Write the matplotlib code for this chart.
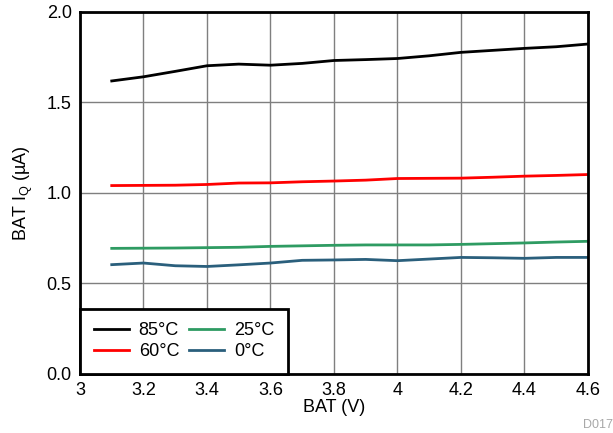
import matplotlib
matplotlib.use('Agg')
import matplotlib.pyplot as plt

plt.rcParams['font.family'] = ['Liberation Sans', 'DejaVu Sans']

# BAT voltage (V)
bat_v = [3.1, 3.2, 3.3, 3.4, 3.5, 3.6, 3.7, 3.8, 3.9, 4.0, 4.1, 4.2, 4.3, 4.4, 4.5, 4.6]

# quiescent current (uA) per temperature
iq_85 = [1.619, 1.642, 1.672, 1.703, 1.712, 1.706, 1.716, 1.732, 1.737, 1.743, 1.758, 1.777, 1.788, 1.799, 1.808, 1.823]
iq_60 = [1.041, 1.042, 1.043, 1.047, 1.055, 1.056, 1.062, 1.066, 1.071, 1.080, 1.081, 1.082, 1.087, 1.093, 1.097, 1.102]
iq_25 = [0.694, 0.695, 0.696, 0.698, 0.700, 0.705, 0.708, 0.711, 0.713, 0.713, 0.713, 0.716, 0.720, 0.724, 0.729, 0.733]
iq_0 = [0.604, 0.613, 0.598, 0.594, 0.603, 0.613, 0.628, 0.630, 0.633, 0.626, 0.635, 0.644, 0.642, 0.639, 0.644, 0.644]

fig = plt.figure(figsize=(6.13, 4.33), dpi=100)
ax = fig.add_axes([0.1305, 0.1363, 0.8287, 0.836])

ax.plot(bat_v, iq_85, color='black', lw=2, label='85°C')
ax.plot(bat_v, iq_60, color='#ff0000', lw=2, label='60°C')
ax.plot(bat_v, iq_25, color='#2e9b62', lw=2, label='25°C')
ax.plot(bat_v, iq_0, color='#2a5f7c', lw=2, label='0°C')

ax.set_xlim(3, 4.6)
ax.set_ylim(0, 2.0)
ax.set_xticks([3, 3.2, 3.4, 3.6, 3.8, 4, 4.2, 4.4, 4.6])
ax.set_xticklabels(['3', '3.2', '3.4', '3.6', '3.8', '4', '4.2', '4.4', '4.6'])
ax.set_yticks([0, 0.5, 1.0, 1.5, 2.0])
ax.set_yticklabels(['0.0', '0.5', '1.0', '1.5', '2.0'])
ax.tick_params(length=0, labelsize=13)
ax.tick_params(axis='x', pad=6)
ax.tick_params(axis='y', pad=6)
ax.grid(True, color='#7f7f7f', lw=1)
for s in ax.spines.values():
    s.set_linewidth(2)

ax.set_xlabel('BAT (V)', fontsize=13, labelpad=0)
ax.set_ylabel('BAT I$_\\mathregular{Q}$ (µA)', fontsize=13, labelpad=8)

leg = ax.legend(loc='lower left', ncol=2, fontsize=13, borderaxespad=0, fancybox=False,
                handlelength=1.95, columnspacing=0.55, handletextpad=0.55, labelspacing=0.22,
                borderpad=0.75, framealpha=1)
leg.get_frame().set_edgecolor('black')
leg.get_frame().set_linewidth(2)

fig.text(0.951, 0.012, 'D017', color='#a8a8a8', fontsize=9)

plt.savefig('out.png', dpi=100)
